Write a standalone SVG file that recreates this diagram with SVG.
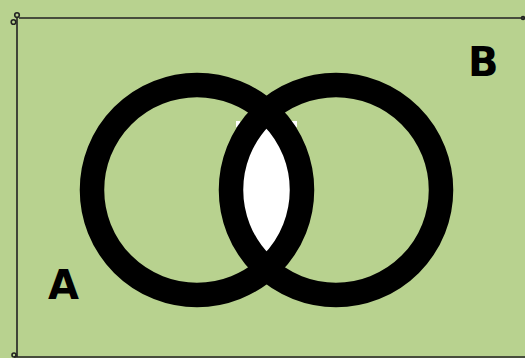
<svg xmlns="http://www.w3.org/2000/svg" width="525" height="358" viewBox="0 0 525 358">
<style>
.frame{fill:none;stroke:#222;stroke-width:1.6}
.ring{fill:none;stroke:#000;stroke-width:24.5}
.lbl{font-family:"DejaVu Sans",sans-serif;font-weight:bold;font-size:40px;fill:#000}
</style>
<defs>
<clipPath id="cl"><circle cx="197" cy="190" r="105"/></clipPath>
</defs>
<rect width="525" height="358" fill="#b8d28f"/>
<g id="frame">
<path class="frame" d="M19,18 H525 M17,18 V357 M14,357 H525"/>
<circle class="frame" cx="17" cy="15" r="2.3"/>
<circle class="frame" cx="13.5" cy="22" r="2.3"/>
<circle class="frame" cx="523" cy="18" r="1.5"/>
<circle class="frame" cx="14" cy="355" r="2"/>
</g>
<g id="lens">
<circle cx="336" cy="190" r="105" fill="#fff" clip-path="url(#cl)"/>
<rect x="236" y="121" width="4" height="6" fill="#fff"/>
<rect x="292" y="121" width="5" height="6" fill="#fff"/>
</g>
<g id="circleA"><circle class="ring" cx="197" cy="190" r="105"/></g>
<g id="circleB"><circle class="ring" cx="336" cy="190" r="105"/></g>
<g id="labelA"><text class="lbl" x="48" y="299">A</text></g>
<g id="labelB"><text class="lbl" x="468" y="76">B</text></g>
</svg>
